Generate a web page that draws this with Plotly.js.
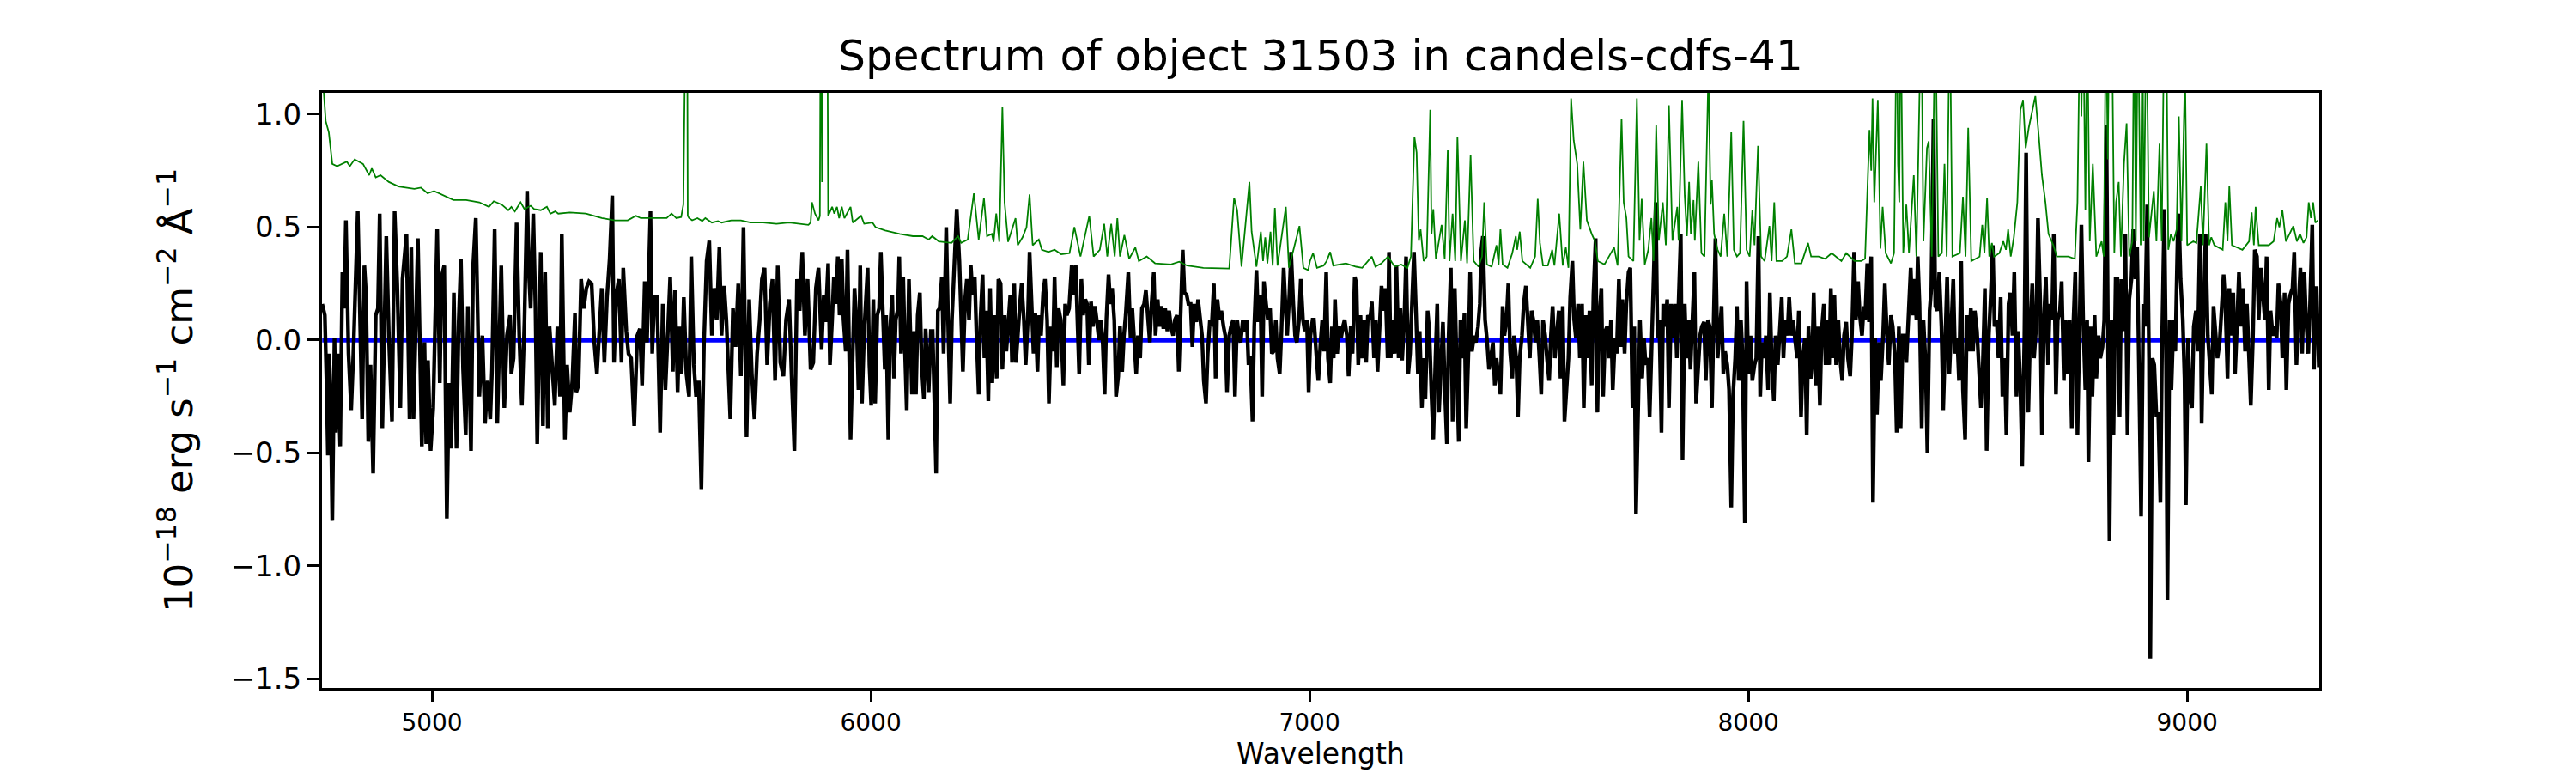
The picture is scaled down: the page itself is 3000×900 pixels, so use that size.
<!DOCTYPE html>
<html>
<head>
<meta charset="utf-8">
<script src="https://cdn.plot.ly/plotly-3.0.1.min.js"></script>
<style>
  html, body { margin: 0; padding: 0; background: #fff; }
</style>
</head>
<body>
<div id="plot" style="width:3000px;height:900px"></div>
<script>
// flux of the object (black)
var fluxWave = [
  4750,4756,4760,4763,4766,4769,4773,4778,4781,4785,
  4791,4796,4800,4804,4810,4816,4821,4827,4831,4835,
  4841,4846,4850,4855,4860,4866,4872,4877,4881,4887,
  4896,4902,4909,4915,4921,4928,4933,4942,4949,4953,
  4958,4968,4977,4983,4987,4991,4997,5003,5012,5018,
  5022,5028,5034,5039,5044,5050,5056,5061,5066,5071,
  5077,5082,5089,5094,5100,5108,5115,5121,5127,5133,
  5137,5143,5149,5158,5165,5171,5178,5181,5186,5193,
  5199,5205,5211,5217,5221,5225,5231,5236,5240,5248,
  5253,5258,5264,5268,5274,5280,5286,5292,5296,5303,
  5308,5314,5320,5326,5329,5334,5340,5346,5352,5358,
  5364,5370,5376,5382,5387,5393,5399,5405,5411,5415,
  5420,5426,5432,5436,5443,5448,5454,5461,5468,5474,
  5479,5485,5490,5498,5502,5507,5513,5520,5526,5532,
  5538,5543,5549,5554,5560,5564,5569,5574,5580,5586,
  5591,5597,5602,5608,5614,5620,5626,5632,5638,5643,
  5649,5655,5660,5666,5671,5680,5686,5692,5698,5704,
  5710,5717,5723,5729,5735,5741,5747,5752,5758,5764,
  5770,5776,5782,5788,5794,5801,5807,5814,5820,5826,
  5832,5838,5844,5850,5856,5863,5869,5875,5881,5888,
  5893,5897,5903,5907,5912,5916,5920,5925,5929,5934,
  5938,5943,5947,5951,5954,5959,5963,5968,5972,5976,
  5980,5985,5989,5993,5997,6001,6006,6010,6015,6019,
  6023,6028,6032,6035,6040,6044,6049,6053,6057,6062,
  6065,6069,6074,6078,6082,6087,6091,6094,6099,6103,
  6107,6112,6116,6121,6125,6129,6132,6137,6141,6149,
  6153,6157,6162,6166,6172,6177,6181,6185,6191,6196,
  6202,6206,6210,6215,6219,6224,6228,6232,6237,6241,
  6246,6250,6255,6259,6263,6268,6272,6277,6281,6287,
  6291,6296,6300,6305,6309,6313,6318,6322,6327,6331,
  6336,6340,6344,6349,6353,6358,6362,6366,6371,6375,
  6380,6384,6388,6393,6397,6402,6406,6411,6415,6419,
  6424,6428,6433,6439,6443,6447,6452,6458,6462,6467,
  6471,6475,6480,6484,6489,6493,6497,6502,6506,6511,
  6515,6520,6524,6528,6533,6537,6542,6546,6550,6555,
  6559,6564,6568,6573,6577,6581,6587,6592,6596,6601,
  6605,6609,6614,6618,6623,6627,6631,6636,6640,6645,
  6649,6654,6658,6662,6667,6671,6676,6680,6684,6689,
  6693,6698,6702,6706,6711,6715,6720,6724,6729,6733,
  6737,6742,6746,6751,6755,6759,6764,6768,6773,6777,
  6782,6786,6790,6795,6799,6804,6808,6812,6817,6821,
  6826,6830,6835,6839,6843,6848,6852,6857,6861,6865,
  6870,6874,6879,6883,6888,6892,6896,6901,6905,6910,
  6914,6918,6923,6927,6932,6936,6941,6945,6949,6954,
  6958,6963,6967,6971,6976,6980,6985,6989,6994,6998,
  7002,7007,
  7010,7016,7020,7025,7029,7033,7038,7042,7047,7051,
  7055,7058,7063,7067,7072,7076,7080,7085,7089,7094,
  7098,7103,7107,7111,7116,7120,7125,7129,7133,7138,
  7142,7147,7151,7155,7160,7164,7169,7173,7178,7181,
  7185,7189,7194,7198,7203,7207,7211,7216,7220,7225,
  7229,7234,7238,7242,7247,7251,7256,7260,7264,7269,
  7273,7278,7282,7287,7291,7295,7300,7304,7309,7313,
  7317,7322,7326,7331,7335,7340,7344,7348,7353,7357,
  7362,7366,7370,7375,7379,7384,7388,7391,7395,7400,
  7404,7409,7413,7418,7422,7426,7431,7435,7440,7444,
  7449,7453,7457,7462,7466,7471,7475,7479,7484,7488,
  7493,7497,7502,7506,7510,7515,7519,7524,7528,7532,
  7537,7541,7546,7550,7554,7559,7563,7568,7572,7577,
  7581,7585,7590,7594,7599,7603,7607,7612,7616,7621,
  7625,7630,7634,7638,7643,7647,7652,7656,7660,7665,
  7669,7674,7678,7683,7687,7691,7696,7700,7705,7709,
  7713,7718,7722,7727,7731,7736,7740,7744,7749,7753,
  7758,7762,7766,7771,7775,7780,7784,7789,7793,7797,
  7802,7806,7811,7815,7819,7824,7828,7833,7837,7841,
  7846,7850,7855,7859,7864,7868,7872,7877,7881,7886,
  7890,7894,7899,7903,7908,7912,7917,7921,7925,7930,
  7934,7939,7943,7947,7952,7956,7961,7965,7970,7974,
  7978,7983,7987,7992,7996,8000,8005,8009,8014,8018,
  8023,8027,8031,8036,8040,8045,8049,8053,8058,8062,
  8067,8071,8076,8080,8084,8089,8093,8098,8102,8106,
  8111,8115,8120,8124,8129,8133,8137,8142,
  8145,8149,8154,8158,8163,8167,8172,8176,8181,8184,
  8188,8193,8196,8200,8205,8209,8214,8218,8223,8227,
  8232,8236,8241,8245,8250,8254,8259,8263,8266,8271,
  8275,8280,8284,8289,8293,8298,8302,8307,8311,8316,
  8320,8325,8329,8334,8338,8343,8347,8352,8356,8360,
  8365,8370,8374,8378,8383,8386,8390,8395,8399,8404,
  8408,8413,8417,8422,8426,8431,8435,8440,8444,8449,
  8453,8458,8462,8467,8471,8476,8480,8485,8489,8494,
  8498,8503,8507,8512,8516,8521,8525,8530,8534,8539,
  8543,8548,8552,8557,8561,8566,8570,8575,8579,8584,
  8588,8593,8597,8602,8606,8611,8615,8620,8624,8629,
  8633,8638,8642,8647,8651,8656,8660,8665,8669,8674,
  8678,8683,8687,8692,8696,8701,8705,8710,8714,8719,
  8723,8728,8732,8737,8741,8745,8750,8754,8759,8763,
  8768,8772,8775,8780,8784,8789,8793,8798,8802,8807,
  8811,8816,8820,8823,8828,8832,8837,8841,8846,8850,
  8855,8859,8864,8868,8873,8877,8882,8886,8891,8895,
  8900,8904,8909,8913,8916,8921,8925,8930,8934,8939,
  8943,8948,8952,8955,8960,8964,8969,8973,8978,8981,
  8985,8990,8994,8997,9002,9006,9011,9015,9020,9024,
  9029,9033,9038,9042,9047,9051,9056,9060,9065,9069,
  9074,9078,9083,9087,9092,9096,9101,9105,9109,9114,
  9118,9123,9127,9132,9136,9141,9145,9150,9154,9159,
  9163,9168,9173,9177,9181,9186,9190,9195,9199,9204,
  9208,9213,9217,9222,9226,9231,9235,9240,9244,9249,
  9253,9258,9262,9267,9271,9276,9280,9285,9289,9292,
  9295,9300
];
var flux = [
  0.16,0.11,-0.20,-0.51,-0.06,-0.25,-0.80,0.01,-0.41,-0.06,
  -0.47,0.30,0.14,0.53,-0.06,-0.31,-0.06,0.39,0.57,0.21,
  -0.35,0.33,0.20,-0.45,-0.11,-0.59,0.11,0.14,0.56,-0.39,
  0.46,0.01,-0.36,0.57,0.25,-0.30,0.27,0.47,-0.35,0.41,
  -0.35,0.45,-0.47,-0.01,-0.46,-0.09,-0.49,-0.30,0.49,-0.19,
  0.28,0.33,-0.79,-0.19,-0.48,0.21,-0.48,0.08,0.36,-0.13,
  -0.42,0.15,-0.49,0.33,0.54,-0.25,0.02,-0.37,-0.18,-0.35,
  -0.13,0.49,-0.37,0.33,-0.30,0.02,0.11,-0.15,-0.08,0.52,
  0.02,-0.29,0.09,0.66,0.30,0.14,0.56,0.14,-0.46,0.39,
  -0.38,0.30,-0.39,0.06,-0.11,-0.29,0.06,-0.25,0.47,-0.44,
  -0.11,-0.32,-0.18,0.12,-0.23,-0.20,0.27,0.14,0.23,0.26,
  0.25,-0.01,-0.15,0.09,0.23,-0.10,0.19,0.36,0.64,-0.10,
  0.20,0.27,-0.10,0.32,0.04,-0.06,-0.08,-0.38,0.02,0.05,
  -0.20,0.26,-0.01,0.57,-0.06,0.19,0.19,-0.41,0.16,-0.22,
  0.08,0.28,-0.14,0.22,-0.23,0.06,-0.15,0.19,-0.15,-0.25,
  0.37,-0.11,-0.25,-0.18,-0.66,-0.01,0.35,0.44,0.02,0.23,
  0.09,0.41,0.02,0.24,0.09,-0.35,0.14,-0.03,0.25,-0.16,
  0.50,-0.43,0.18,-0.15,-0.35,-0.06,0.09,0.27,0.32,-0.11,
  0.16,0.27,-0.18,0.33,-0.10,-0.16,0.09,0.18,-0.18,-0.49,
  0.27,0.13,0.39,0.02,0.27,-0.13,-0.10,0.23,0.32,-0.04,
  0.20,0.08,0.34,-0.11,0.09,0.28,0.16,0.37,0.11,0.36,
  0.09,-0.05,0.40,0.02,-0.44,-0.06,0.23,0.06,-0.22,0.33,
  -0.28,0.04,0.23,0.32,-0.11,-0.29,0.18,-0.28,0.11,0.14,
  0.39,0.09,-0.13,0.11,-0.44,0.05,0.20,-0.17,0.09,0.14,
  0.37,-0.06,0.28,-0.05,-0.31,0.27,0.04,-0.24,0.04,-0.24,
  0.11,0.21,-0.11,-0.26,0.05,-0.10,-0.23,0.04,0.04,-0.59,
  0.13,0.14,0.28,-0.06,0.50,0.02,-0.28,0.09,0.42,0.58,
  0.35,0.08,-0.14,0.18,0.27,0.09,0.33,0.20,0.28,0.02,
  -0.24,0.09,0.29,-0.08,0.13,-0.27,0.23,-0.19,0.11,-0.17,
  0.27,0.25,-0.13,0.11,-0.05,0.06,0.20,-0.10,0.25,-0.10,
  0.09,0.16,0.25,0.09,-0.11,0.09,0.39,0.14,-0.06,0.12,
  -0.14,0.11,0.02,0.21,0.27,0.09,-0.28,0.06,-0.05,0.28,
  -0.12,0.14,0.09,-0.20,0.16,0.11,0.14,0.33,0.20,0.33,
  0.11,-0.15,0.27,0.11,0.18,0.16,-0.11,0.17,0.06,0.15,
  0.09,0.00,0.09,0.02,-0.24,0.09,0.29,0.16,0.23,0.09,
  -0.25,-0.16,0.06,-0.14,0.02,0.11,0.30,0.01,0.14,-0.06,
  -0.15,0.02,-0.08,0.14,0.16,0.22,0.09,-0.01,0.16,0.30,
  0.02,0.18,0.06,0.15,0.05,0.14,0.04,0.13,0.06,0.02,
  0.09,0.11,-0.14,0.09,0.40,0.21,0.20,0.16,0.16,-0.03,
  0.16,0.08,0.18,0.09,0.02,-0.18,-0.28,-0.06,0.09,0.06,
  0.25,-0.17,0.18,0.09,0.13,0.06,0.02,-0.23,0.02,0.06,
  0.09,-0.25,0.09,0.02,-0.01,0.09,0.04,0.09,-0.11,-0.07,
  -0.36,0.06,0.31,0.08,0.20,-0.25,0.26,0.16,0.09,0.14,
  -0.06,-0.05,0.09,-0.08,-0.15,0.04,0.32,0.16,0.02,0.20,
  0.39,0.16,0.02,-0.01,0.09,0.27,0.09,0.04,0.09,-0.23,
  0.02,0.09,
  0.09,-0.08,-0.18,-0.01,0.09,-0.05,0.30,-0.08,-0.19,0.06,
  -0.08,0.18,-0.06,0.06,0.01,0.06,0.09,0.02,-0.16,0.06,
  -0.06,0.28,0.25,-0.11,0.11,-0.08,0.09,-0.10,0.11,0.09,
  0.17,-0.08,0.09,-0.14,0.06,0.24,0.13,0.23,-0.08,0.39,
  -0.08,0.09,-0.06,0.33,-0.08,0.14,-0.09,0.09,0.37,-0.15,
  -0.06,0.16,0.39,0.16,-0.15,0.04,-0.30,-0.08,-0.26,0.13,
  0.04,-0.25,-0.44,-0.08,0.16,-0.32,-0.08,0.08,-0.25,-0.46,
  0.02,0.32,-0.36,0.23,-0.08,-0.45,0.09,-0.08,0.12,-0.39,
  -0.06,0.30,-0.05,0.02,-0.01,0.06,0.16,0.39,0.46,0.09,
  0.01,-0.13,-0.08,-0.01,-0.20,-0.08,-0.17,-0.24,0.15,0.02,
  0.09,0.25,-0.05,-0.17,0.02,-0.08,-0.34,-0.08,0.02,0.16,
  0.24,0.09,-0.08,0.13,0.09,-0.01,0.09,-0.08,-0.24,0.09,
  0.02,-0.08,-0.18,0.02,0.15,-0.08,0.02,0.13,-0.17,0.15,
  -0.36,-0.25,-0.08,0.19,0.35,0.09,0.01,0.16,-0.08,0.16,
  -0.30,0.11,-0.08,0.13,-0.20,0.20,0.45,-0.32,0.09,0.23,
  -0.25,0.04,0.06,-0.08,0.09,-0.22,0.01,-0.06,0.27,-0.03,
  0.18,-0.06,0.16,0.30,0.32,-0.30,0.06,-0.77,-0.36,0.09,
  -0.17,0.01,-0.11,-0.08,-0.34,0.01,0.20,0.61,0.01,0.09,
  -0.41,0.16,0.06,0.18,-0.30,0.16,0.01,0.16,-0.08,0.16,
  0.47,-0.53,0.16,-0.08,0.09,-0.13,0.09,0.30,-0.28,-0.08,
  0.02,0.06,0.08,-0.18,0.09,0.06,-0.30,0.09,0.45,-0.08,
  0.02,0.15,-0.15,-0.05,-0.11,-0.22,-0.74,-0.25,-0.08,0.15,
  -0.18,0.09,-0.08,-0.81,0.26,-0.15,0.02,-0.18,-0.11,-0.08,
  0.46,-0.25,-0.01,-0.08,0.02,-0.22,0.21,-0.08,-0.27,0.02,
  -0.11,0.02,0.19,-0.08,0.09,0.02,0.19,0.02,0.09,0.01,
  -0.08,0.13,-0.34,-0.08,0.01,-0.42,0.06,-0.17,
  -0.11,0.21,-0.20,0.06,-0.29,0.04,0.16,-0.11,0.09,-0.11,
  0.23,-0.08,0.20,-0.11,0.09,-0.08,-0.18,0.02,0.08,-0.08,
  -0.16,0.02,0.39,0.09,0.26,0.11,0.02,0.15,0.09,0.34,
  0.08,0.37,-0.72,0.01,-0.33,-0.01,-0.18,0.02,0.25,0.02,
  -0.11,0.11,0.06,-0.08,-0.41,0.06,-0.39,0.02,0.02,-0.10,
  0.16,0.32,0.11,0.27,0.09,0.37,0.16,-0.39,0.09,-0.11,
  -0.50,0.13,0.23,0.98,0.15,0.13,0.30,0.06,-0.31,0.09,
  0.28,-0.15,0.06,0.27,-0.06,0.01,-0.18,0.35,-0.22,-0.44,
  0.11,-0.05,0.14,-0.05,0.13,0.04,-0.11,-0.30,-0.13,0.23,
  -0.49,0.02,0.18,0.42,0.06,0.09,-0.08,0.19,-0.25,-0.08,
  -0.42,0.16,0.21,0.02,0.30,-0.25,0.04,-0.22,-0.56,0.01,
  0.83,-0.32,0.01,0.25,-0.08,0.06,0.54,0.18,-0.42,0.11,
  0.28,-0.11,0.16,0.09,0.47,-0.24,0.09,0.13,0.26,-0.18,
  0.09,-0.15,0.09,-0.39,0.09,0.30,-0.42,-0.01,0.51,0.09,
  -0.22,0.09,-0.54,0.06,-0.25,0.11,-0.17,0.02,-0.08,-0.03,
  0.09,0.95,-0.08,-0.89,0.09,-0.42,0.27,0.27,-0.34,0.27,
  0.04,0.47,-0.42,0.18,0.27,0.49,0.27,0.41,-0.24,-0.78,
  0.16,0.06,0.60,-0.08,-1.41,-0.08,-0.11,-0.34,-0.32,-0.72,
  0.02,0.58,-0.11,-1.15,0.09,-0.22,0.09,-0.05,0.44,0.56,
  0.27,0.09,-0.17,-0.73,0.01,-0.25,-0.30,0.06,0.13,-0.05,
  0.47,-0.37,0.16,0.47,0.02,-0.10,-0.24,0.15,0.02,-0.08,
  -0.01,0.16,0.29,0.16,-0.17,0.23,0.02,0.21,-0.15,0.09,
  0.30,0.06,0.23,-0.05,0.16,-0.08,-0.29,0.02,0.40,0.37,
  0.09,0.32,0.16,0.09,0.37,-0.22,0.13,0.02,0.06,0.01,
  0.25,0.16,-0.08,0.21,-0.22,0.16,0.20,0.23,0.39,-0.11,
  0.13,0.32,-0.06,0.30,0.09,-0.06,0.16,0.51,-0.13,0.23,
  0.23,-0.12
];

// noise / sky spectrum (green)
var noiseWave = [
  4750,4754,4758,4765,4773,4784,4806,4813,4824,4843,
  4857,4863,4872,4883,4902,4924,4946,4960,4975,4990,
  5005,5034,5049,5078,5108,5130,5141,5159,5174,5181,
  5189,5202,5211,5225,5233,5248,5262,5270,5281,5288,
  5314,5351,5387,5417,5446,5465,5476,5535,5546,5557,
  5568,5573,5575,5581,5583,5586,5593,5605,5616,5623,
  5638,5652,5660,5682,5704,5726,5755,5785,5814,5858,
  5863,5866,5873,5881,5884,5886,5889,5893,5896,5900,
  5902,
  5903,5912,5917,5923,5928,5934,5940,5954,5959,5978,
  5985,6004,6011,6033,6066,6096,6118,6132,6140,6155,
  6184,6199,6206,6221,6235,6246,6258,6265,6276,6280,
  6286,6293,6300,6305,6313,6330,6335,6346,6355,6362,
  6369,6383,6390,6405,6419,6434,6453,6464,6478,6498,
  6508,6522,6532,6539,6548,6556,6562,6568,6578,6589,
  6603,6611,6629,6648,6684,6703,6721,6758,6817,6828,
  6835,6845,6863,6868,6879,6889,6894,6899,6904,6911,
  6916,6921,6927,6946,6953,6977,6986,6997,7001,7008,
  7017,7032,7039,7047,7054,7083,7106,7120,7142,7150,
  7164,7179,7194,7209,7223,7231,7239,7244,7249,7253,
  7260,7267,7275,7278,7282,7288,7301,7308,7315,7319,
  7326,7332,7337,7345,7354,7359,7367,7374,7385,7393,
  7398,7404,7415,7426,7431,7435,7440,7451,7462,7470,
  7473,7479,7485,7503,7514,7520,7525,7532,7543,7553,
  7558,7569,7577,7584,7590,7596,7602,7610,7617,7624,
  7632,7643,7650,7657,7672,7694,7702,7711,7716,7722,
  7727,7738,7746,7752,7757,7764,7772,7779,7784,7790,
  7796,7805,7812,7819,7827,7838,7841,7849,7855,7860,
  7865,7869,7875,7878,7886,7893,7900,7909,7914,7917,
  7922,7930,7937,7945,7952,7961,7967,7974,7981,7989,
  7996,8003,8009,8014,8022,8029,8037,8048,8053,8059,
  8064,8077,8088,8098,8106,8121,8132,8136,8143,
  8145,8160,8175,8190,8212,8223,8242,8257,8266,8272,
  8276,8280,8283,8287,8295,8301,8306,8313,8325,8332,
  8338,8341,8344,8347,8353,8360,8366,8377,8383,8394,
  8399,8407,8411,8418,8423,8426,8433,8441,8447,8452,
  8459,8465,8482,8489,8495,8501,8508,8527,8533,8538,
  8544,8549,8555,8560,8572,8581,8587,8592,8598,8605,
  8613,8620,8626,8632,8639,8647,8654,8662,8669,8677,
  8684,8695,8703,8729,8744,8750,8753,8756,8759,8763,
  8768,8772,8778,8785,8793,8805,8810,8815,8819,8823,
  8828,8834,8838,8844,8849,8856,8862,8868,8875,8879,
  8883,8888,8894,8898,8901,8907,8913,8924,8930,8937,
  8942,8948,8952,8957,8963,8969,8976,8981,8987,8995,
  9000,9014,9021,9031,9036,9044,9050,9055,9062,9081,
  9087,9092,9096,9102,9126,9141,9147,9152,9156,9163,
  9186,9197,9205,9210,9217,9225,9242,9250,9257,9265,
  9272,9277,9282,9287,9292,9298
];
var noise = [
  1.20,1.09,0.97,0.92,0.78,0.77,0.79,0.77,0.80,0.78,
  0.73,0.76,0.72,0.73,0.70,0.68,0.675,0.67,0.675,0.65,
  0.66,0.635,0.62,0.62,0.61,0.59,0.615,0.60,0.575,0.59,
  0.57,0.61,0.58,0.595,0.58,0.575,0.59,0.56,0.57,0.56,
  0.565,0.56,0.54,0.53,0.53,0.55,0.54,0.54,0.56,0.54,
  0.545,0.60,2.0,2.0,0.55,0.54,0.53,0.54,0.527,0.54,
  0.52,0.527,0.52,0.53,0.53,0.52,0.52,0.515,0.52,0.51,
  0.52,0.61,0.56,0.53,0.55,1.6,0.70,2.0,1.9,2.0,
  0.55,
  0.55,0.59,0.56,0.59,0.54,0.59,0.54,0.59,0.52,0.55,
  0.515,0.52,0.50,0.485,0.47,0.46,0.46,0.445,0.46,0.437,
  0.43,0.46,0.43,0.445,0.65,0.445,0.63,0.46,0.47,0.435,
  0.56,0.435,1.03,0.61,0.435,0.54,0.42,0.455,0.50,0.645,
  0.42,0.445,0.40,0.39,0.40,0.38,0.385,0.50,0.37,0.55,
  0.37,0.40,0.515,0.37,0.515,0.37,0.54,0.37,0.465,0.36,
  0.41,0.35,0.37,0.34,0.335,0.347,0.33,0.32,0.317,0.63,
  0.575,0.325,0.70,0.48,0.325,0.48,0.35,0.455,0.34,0.48,
  0.33,0.585,0.33,0.59,0.32,0.505,0.32,0.31,0.35,0.385,
  0.32,0.33,0.35,0.39,0.33,0.34,0.325,0.32,0.37,0.325,
  0.34,0.37,0.325,0.335,0.32,0.37,0.90,0.83,0.44,0.49,
  0.35,0.37,1.02,0.47,0.58,0.36,0.51,0.36,0.84,0.35,
  0.56,0.35,0.90,0.35,0.53,0.34,0.82,0.35,0.325,0.37,
  0.61,0.335,0.325,0.42,0.335,0.49,0.335,0.32,0.385,0.46,
  0.40,0.48,0.35,0.32,0.37,0.625,0.43,0.33,0.33,0.40,
  0.33,0.56,0.33,0.41,0.32,1.07,0.885,0.78,0.49,0.79,
  0.53,0.47,0.44,0.35,0.335,0.41,0.33,0.98,0.61,0.54,
  0.37,0.35,1.07,0.44,0.625,0.335,0.40,0.54,0.35,0.95,
  0.44,0.61,0.42,1.04,0.44,0.59,0.44,1.06,0.64,0.46,
  0.70,0.47,0.62,0.44,0.79,0.385,0.37,1.20,0.60,0.71,
  0.47,0.40,0.37,0.56,0.37,0.92,0.40,0.37,0.385,0.97,
  0.40,0.37,0.575,0.42,0.86,0.37,0.35,0.505,0.35,0.61,
  0.35,0.35,0.37,0.49,0.34,0.34,0.40,0.43,0.37,
  0.37,0.37,0.36,0.385,0.35,0.385,0.35,0.35,0.36,0.68,
  0.93,0.75,1.07,0.61,1.06,0.405,0.59,0.385,0.34,0.385,
  1.5,0.78,0.61,1.5,0.385,0.60,0.385,0.73,0.37,1.5,
  0.437,0.85,0.88,0.37,1.5,1.5,0.37,0.385,0.78,0.37,
  1.5,0.37,0.385,0.635,0.37,0.94,0.35,0.37,0.51,0.385,
  0.63,0.37,0.43,0.37,0.385,0.437,0.40,0.49,0.37,0.455,
  0.61,1.02,1.06,0.85,0.94,1.02,1.08,0.90,0.73,0.61,
  0.47,0.42,0.37,0.37,0.36,0.61,1.5,1.5,0.99,1.5,
  0.575,1.5,0.437,0.78,0.37,0.437,0.37,1.5,0.80,1.5,
  1.5,0.385,0.61,0.70,0.37,0.78,0.96,0.37,0.437,1.5,
  0.437,1.5,0.42,1.5,0.437,1.5,0.455,0.66,0.437,0.87,
  0.437,1.5,1.5,0.40,0.47,0.437,0.49,0.99,0.437,1.2,
  0.42,0.437,0.43,0.68,0.42,0.87,0.42,0.455,0.42,0.40,
  0.61,0.437,0.68,0.42,0.40,0.437,0.565,0.42,0.59,0.42,
  0.42,0.437,0.54,0.50,0.575,0.437,0.505,0.437,0.47,0.43,
  0.455,0.61,0.54,0.61,0.52,0.53
];

// model (blue)
var modelWave = [4750, 9300];
var model = [0.0, 0.0];

var xTicks = [5000, 6000, 7000, 8000, 9000];
var yTicks = [-1.5, -1.0, -0.5, 0.0, 0.5, 1.0];
var yTickText = ['\u22121.5', '\u22121.0', '\u22120.5', '0.0', '0.5', '1.0'];

var traceModel = {
  x: modelWave, y: model,
  type: 'scatter', mode: 'lines',
  line: {color: '#0000ff', width: 5.5}
};
var traceFlux = {
  x: fluxWave, y: flux,
  type: 'scatter', mode: 'lines',
  line: {color: '#000000', width: 4.4}
};
var traceNoise = {
  x: noiseWave, y: noise,
  type: 'scatter', mode: 'lines',
  line: {color: '#008000', width: 1.8}
};

var layout = {
  width: 3000,
  height: 900,
  margin: {l: 375, r: 299, t: 108, b: 99, autoexpand: false},
  paper_bgcolor: '#ffffff',
  plot_bgcolor: '#ffffff',
  showlegend: false,
  font: {family: 'DejaVu Sans', color: '#000000'},
  title: {
    text: 'Spectrum of object 31503 in candels-cdfs-41',
    font: {size: 50, color: '#000000'},
    x: 0.5, xref: 'paper', xanchor: 'center',
    y: 0.928, yref: 'container', yanchor: 'middle'
  },
  xaxis: {
    range: [4749.5, 9301],
    tickvals: xTicks,
    ticks: 'outside', ticklen: 13, tickwidth: 3, tickcolor: '#000000',
    showline: true, mirror: true, linewidth: 3, linecolor: '#000000',
    showgrid: false, zeroline: false,
    tickfont: {size: 28},
    title: {text: 'Wavelength', font: {size: 33}, standoff: 0}
  },
  yaxis: {
    range: [-1.54, 1.095],
    tickvals: yTicks,
    ticktext: yTickText,
    ticks: 'outside', ticklen: 14, tickwidth: 3, tickcolor: '#000000',
    showline: true, mirror: true, linewidth: 3, linecolor: '#000000',
    showgrid: false, zeroline: false,
    tickfont: {size: 34},
    title: {
      text: '10<sup>\u221218</sup> erg s<sup>\u22121</sup> cm<sup>\u22122</sup> \u00c5<sup>\u22121</sup>',
      font: {size: 45},
      standoff: 30
    }
  }
};

Plotly.newPlot('plot', [traceModel, traceFlux, traceNoise], layout, {staticPlot: true});
</script>
</body>
</html>
